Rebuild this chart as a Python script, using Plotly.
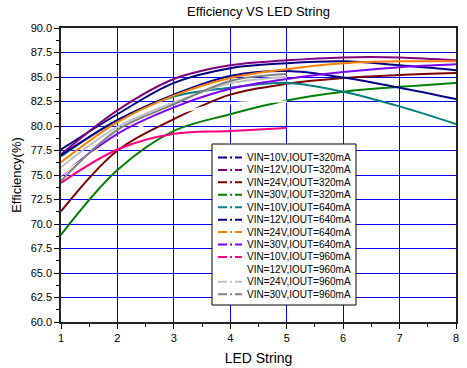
import plotly.graph_objects as go

# ---------------- data ----------------
led_string = [1, 2, 3, 4, 5, 6, 7, 8]
led_string_short = [1, 2, 3, 4, 5]

series_names = [
    "VIN=10V,IOUT=320mA",
    "VIN=12V,IOUT=320mA",
    "VIN=24V,IOUT=320mA",
    "VIN=30V,IOUT=320mA",
    "VIN=10V,IOUT=640mA",
    "VIN=12V,IOUT=640mA",
    "VIN=24V,IOUT=640mA",
    "VIN=30V,IOUT=640mA",
    "VIN=10V,IOUT=960mA",
    "VIN=12V,IOUT=960mA",
    "VIN=24V,IOUT=960mA",
    "VIN=30V,IOUT=960mA",
]
series_colors = [
    "#000080", "#800080", "#800000", "#008000",
    "#008080", "#00008B", "#FF8000", "#8000FF",
    "#FF0080", "#FFFFFF", "#C0C0C0", "#808080",
]

vin10_320 = [77.6, 81.2, 84.4, 85.9, 86.4, 86.6, 86.2, 85.7]
vin12_320 = [77.1, 81.6, 84.8, 86.2, 86.7, 87.0, 87.0, 86.7]
vin24_320 = [71.3, 77.5, 80.7, 83.2, 84.3, 84.9, 85.2, 85.4]
vin30_320 = [68.9, 75.5, 79.5, 81.2, 82.6, 83.5, 84.0, 84.4]
vin10_640 = [76.9, 80.6, 83.0, 83.9, 84.4, 83.5, 82.0, 80.2]
vin12_640 = [77.0, 80.6, 83.2, 85.1, 85.6, 84.95, 83.9, 82.75]
vin24_640 = [76.3, 80.4, 83.1, 84.9, 85.8, 86.4, 86.6, 86.6]
vin30_640 = [74.9, 79.2, 81.9, 83.8, 84.8, 85.5, 86.0, 86.3]
vin10_960 = [74.2, 77.6, 79.2, 79.5, 79.8]
vin12_960 = [75.0, 78.8, 81.2, 82.3, 82.5]
vin24_960 = [75.8, 79.9, 82.4, 84.35, 85.0]
vin30_960 = [74.4, 79.6, 82.2, 84.6, 85.3]

series_values = [
    vin10_320, vin12_320, vin24_320, vin30_320,
    vin10_640, vin12_640, vin24_640, vin30_640,
    vin10_960, vin12_960, vin24_960, vin30_960,
]

y_ticks = [60.0, 62.5, 65.0, 67.5, 70.0, 72.5, 75.0, 77.5, 80.0, 82.5, 85.0, 87.5, 90.0]
x_ticks = [1, 2, 3, 4, 5, 6, 7, 8]

# ---------------- figure ----------------
FONT = "Liberation Sans, Arial, sans-serif"
W, H = 467, 368
ML, MR, MT, MB = 61, 11, 28, 46
PW, PH = W - ML - MR, H - MT - MB

fig = go.Figure()
for name, color, vals in zip(series_names, series_colors, series_values):
    xs = led_string if len(vals) == len(led_string) else led_string_short
    fig.add_trace(go.Scatter(
        x=xs, y=vals, mode="lines", name=name,
        line=dict(color=color, width=2, shape="spline", smoothing=1.0),
        showlegend=False, hoverinfo="x+y+name",
    ))

def px_x(px):
    return (px - ML) / PW

def px_y(py):
    return (MT + PH - py) / PH

shapes = []
annotations = []
# legend box
shapes.append(dict(type="rect", xref="paper", yref="paper",
                   x0=px_x(212), x1=px_x(356), y0=px_y(305), y1=px_y(144),
                   line=dict(color="#000000", width=1), fillcolor="white", layer="above"))
row0, gap = 157.5, 12.43
for i, (name, color) in enumerate(zip(series_names, series_colors)):
    ry = row0 + i * gap
    shapes.append(dict(type="line", xref="paper", yref="paper",
                       x0=px_x(218), x1=px_x(242), y0=px_y(ry), y1=px_y(ry),
                       line=dict(color=color, width=2, dash="9px,3px,2px,3px"), layer="above"))
    annotations.append(dict(xref="paper", yref="paper", x=px_x(244.5), y=px_y(ry),
                            xanchor="left", yanchor="middle", text=name, showarrow=False,
                            font=dict(family=FONT, size=10, color="black")))

fig.update_layout(
    width=W, height=H,
    margin=dict(l=ML, r=MR, t=MT, b=MB, pad=0, autoexpand=False),
    paper_bgcolor="white", plot_bgcolor="white",
    title=dict(text="Efficiency VS LED String", x=0.5, xref="paper",
               y=1 - 11 / H, yref="container", xanchor="center", yanchor="middle",
               font=dict(family=FONT, size=13, color="black")),
    font=dict(family=FONT, size=11, color="black"),
    shapes=shapes, annotations=annotations,
    showlegend=False,
)
fig.update_xaxes(
    range=[1, 8], tickmode="array", tickvals=x_ticks, ticktext=[str(v) for v in x_ticks],
    showgrid=True, gridcolor="#0000FF", gridwidth=1,
    showline=True, linecolor="#222222", linewidth=1.5, mirror=True,
    ticks="outside", ticklen=5, tickwidth=1, tickcolor="black",
    minor=dict(tickvals=[1.5, 2.5, 3.5, 4.5, 5.5, 6.5, 7.5], ticks="outside", ticklen=3,
               tickcolor="black", showgrid=False),
    tickfont=dict(family=FONT, size=11, color="black"),
    title=dict(text="LED String", font=dict(family=FONT, size=14, color="black"), standoff=10),
    zeroline=False, automargin=False, layer="below traces",
)
fig.update_yaxes(
    range=[60, 90], tickmode="array", tickvals=y_ticks, ticktext=[f"{v:.1f}" for v in y_ticks],
    showgrid=True, gridcolor="#0000FF", gridwidth=1,
    showline=True, linecolor="#222222", linewidth=1.5, mirror=True,
    ticks="outside", ticklen=5, tickwidth=1, tickcolor="black",
    minor=dict(tickvals=[v + 1.25 for v in y_ticks[:-1]], ticks="outside", ticklen=3,
               tickcolor="black", showgrid=False),
    tickfont=dict(family=FONT, size=11, color="black"),
    title=dict(text="Efficiency(%)", font=dict(family=FONT, size=13, color="black"), standoff=6),
    zeroline=False, automargin=False, layer="below traces",
)

fig.write_html("out.html", config={"displayModeBar": False},
               post_script="document.body.style.margin='0';")
